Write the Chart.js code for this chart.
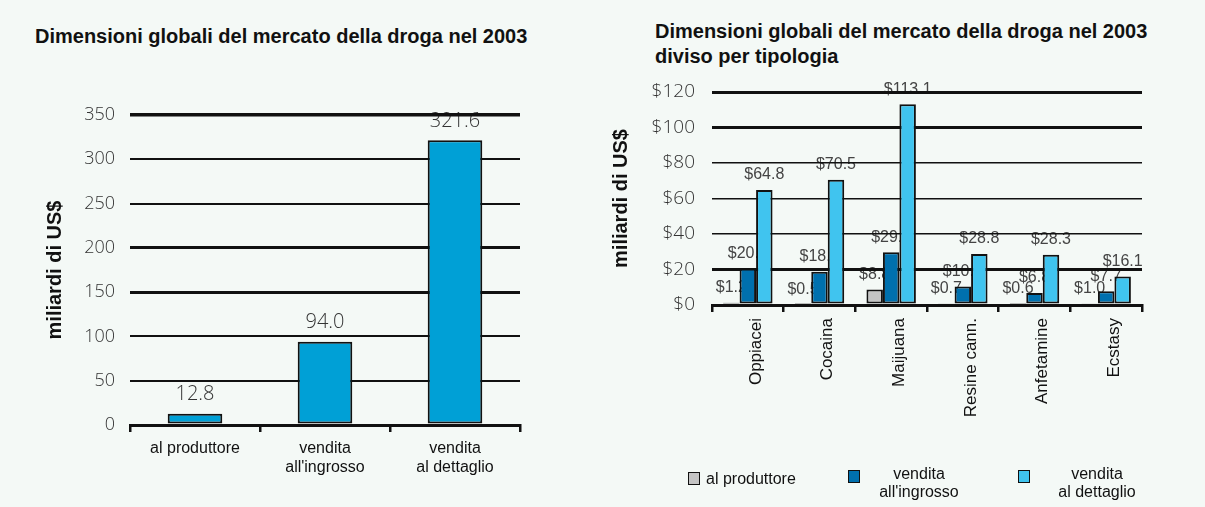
<!DOCTYPE html>
<html>
<head>
<meta charset="utf-8">
<script src="https://cdn.jsdelivr.net/npm/chart.js@4"></script>
<style>
  body { margin: 0; background: #f4f9f6; font-family: 'Liberation Sans', Arial, sans-serif; }
  #wrap { position: relative; width: 1205px; height: 507px; overflow: hidden; }
  .title { position: absolute; font-weight: bold; font-size: 20px; color: #111; line-height: 25px; white-space: nowrap; }
  .chartBox { position: absolute; top: 0; height: 507px; }
  .leg { position: absolute; font-size: 16px; color: #111; line-height: 18px; text-align: center; white-space: nowrap; }
  .sw { position: absolute; width: 10px; height: 11px; border: 1.5px solid #111; }
</style>
</head>
<body>
<div id="wrap">
  <div class="title" style="left:35px; top:24px;">Dimensioni globali del mercato della droga nel 2003</div>
  <div class="title" style="left:655px; top:19px;">Dimensioni globali del mercato della droga nel 2003<br>diviso per tipologia</div>

  <div class="chartBox" style="left:0; width:600px;"><canvas id="totalChart" width="600" height="507"></canvas></div>
  <div class="chartBox" style="left:600px; width:605px;"><canvas id="typeChart" width="605" height="507"></canvas></div>

  <!-- legend for the right chart -->
  <div class="sw" style="left:688px; top:472px; background:#c4c4c4;"></div>
  <div class="leg" style="left:706px; top:470px; text-align:left;">al produttore</div>
  <div class="sw" style="left:848px; top:470px; background:#0070ae;"></div>
  <div class="leg" style="left:864px; top:465px; width:110px;">vendita<br>all'ingrosso</div>
  <div class="sw" style="left:1018px; top:470px; background:#40c4ef;"></div>
  <div class="leg" style="left:1042px; top:465px; width:110px;">vendita<br>al dettaglio</div>
</div>

<script>
// Left chart data
const stageLabels = [['al produttore'], ['vendita', "all'ingrosso"], ['vendita', 'al dettaglio']];
const stageValues = [12.8, 94.0, 321.6];
const totalTicks = [0, 50, 100, 150, 200, 250, 300, 350];

// Right chart data
const drugLabels = ['Oppiacei', 'Cocaina', 'Maijuana', 'Resine cann.', 'Anfetamine', 'Ecstasy'];
const producerValues = [1.2, 0.5, 8.8, 0.7, 0.6, 1.0];
const wholesaleValues = [20.6, 18.8, 29.7, 10.4, 6.8, 7.7];
const retailValues = [64.8, 70.5, 113.1, 28.8, 28.3, 16.1];
const seriesNames = ['al produttore', "vendita all'ingrosso", 'vendita al dettaglio'];
const typeTicks = [0, 20, 40, 60, 80, 100, 120];

// Draw value labels before the scales so gridlines and bars sit on top of them
const valueLabels = {
    id: 'valueLabels',
    beforeDraw(chart, args, opts) {
        const ctx = chart.ctx;
        ctx.save();
        ctx.font = opts.font;
        ctx.fillStyle = opts.color;
        ctx.textAlign = 'center';
        ctx.textBaseline = 'middle';
        chart.data.datasets.forEach((ds, i) => {
            chart.getDatasetMeta(i).data.forEach((bar, j) => {
                ctx.fillText(opts.format(ds.data[j]), bar.x, bar.y - opts.offset);
            });
        });
        ctx.restore();
    }
};

Chart.register(valueLabels);

// Left chart: totals
new Chart(document.getElementById('totalChart'), {
    type: 'bar',
    data: {
        labels: stageLabels,
        datasets: [{
            data: stageValues,
            backgroundColor: '#00a0d6',
            borderColor: '#111',
            borderWidth: 2,
            borderSkipped: false,
            categoryPercentage: 1,
            barPercentage: 0.42
        }]
    },
    options: {
        responsive: false,
        animation: false,
        layout: { padding: { top: 115, left: 40, right: 80, bottom: 0 } },
        plugins: {
            legend: { display: false },
            tooltip: { enabled: false },
            valueLabels: {
                font: '300 20px "Open Sans"',
                color: '#333',
                offset: 19,
                format: v => v.toFixed(1)
            }
        },
        scales: {
            x: {
                afterFit: s => { s.height = 82; },
                grid: { drawOnChartArea: false, drawTicks: true, tickLength: 7, color: '#111', lineWidth: 2.5 },
                border: { color: '#111', width: 3 },
                ticks: { color: '#111', font: { family: 'Liberation Sans', size: 16 }, padding: 7, maxRotation: 0 }
            },
            y: {
                min: 0,
                max: 350,
                afterFit: s => { s.width = 90; },
                afterBuildTicks: s => { s.ticks = totalTicks.map(v => ({ value: v })); },
                grid: {
                    drawTicks: false,
                    color: '#111',
                    lineWidth: ctx => [3, 2, 2, 3, 3, 2, 2, 3.5][ctx.index]
                },
                border: { display: false },
                ticks: { color: '#333', font: { family: 'Open Sans', size: 18, weight: '300' }, padding: 15 },
                title: {
                    display: true,
                    text: 'miliardi di US$',
                    color: '#111',
                    font: { family: 'Liberation Sans', size: 20, weight: 'bold' },
                    padding: { top: 3, bottom: 0 }
                }
            }
        }
    }
});

// Right chart: split by drug type
new Chart(document.getElementById('typeChart'), {
    type: 'bar',
    data: {
        labels: drugLabels,
        datasets: [
            { label: seriesNames[0], data: producerValues, backgroundColor: '#c4c4c4' },
            { label: seriesNames[1], data: wholesaleValues, backgroundColor: '#0070ae' },
            { label: seriesNames[2], data: retailValues, backgroundColor: '#40c4ef' }
        ].map(ds => Object.assign(ds, {
            borderColor: '#111',
            borderWidth: 2,
            borderSkipped: false,
            categoryPercentage: 0.69,
            barPercentage: 1
        }))
    },
    options: {
        responsive: false,
        animation: false,
        layout: { padding: { top: 92, left: 6, right: 63, bottom: 0 } },
        plugins: {
            legend: { display: false },
            tooltip: { enabled: false },
            valueLabels: {
                font: '16px "Liberation Sans"',
                color: '#444',
                offset: 15,
                format: v => '$' + v.toFixed(1)
            }
        },
        scales: {
            x: {
                afterFit: s => { s.height = 202; },
                grid: { drawOnChartArea: false, drawTicks: true, tickLength: 7, color: '#111', lineWidth: 2.5 },
                border: { color: '#111', width: 3 },
                ticks: {
                    color: '#111',
                    font: { family: 'Liberation Sans', size: 17 },
                    padding: 6,
                    minRotation: 90,
                    maxRotation: 90,
                    labelOffset: 8
                }
            },
            y: {
                min: 0,
                max: 120,
                afterFit: s => { s.width = 106; },
                afterBuildTicks: s => { s.ticks = typeTicks.map(v => ({ value: v })); },
                grid: {
                    drawTicks: false,
                    color: '#111',
                    lineWidth: ctx => [3, 3, 1.5, 1.5, 1.5, 3, 3][ctx.index]
                },
                border: { display: false },
                ticks: {
                    color: '#333',
                    font: { family: 'Open Sans', size: 19, weight: '300' },
                    padding: 17,
                    callback: v => '$' + v
                },
                title: {
                    display: true,
                    text: 'miliardi di US$',
                    color: '#111',
                    font: { family: 'Liberation Sans', size: 20, weight: 'bold' },
                    padding: { top: 3, bottom: 0 }
                }
            }
        }
    }
});
</script>
</body>
</html>
